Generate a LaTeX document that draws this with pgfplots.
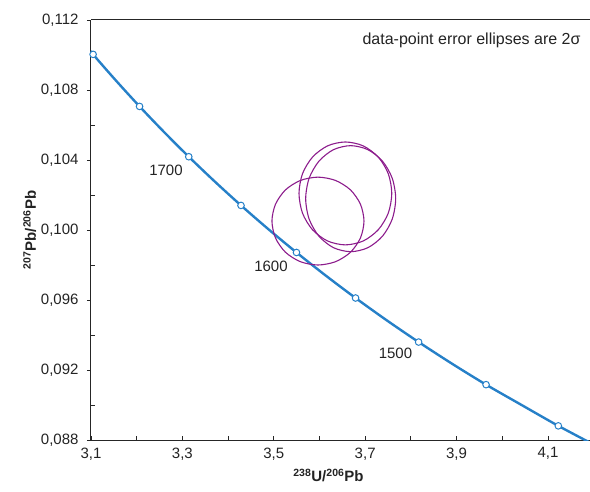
\documentclass[border=0pt]{standalone}
\usepackage{fontspec}
\setmainfont{Liberation Sans}
\usepackage{pgfplots}
\pgfplotsset{compat=1.18}
\definecolor{cblue}{RGB}{38,128,200}
\definecolor{epurple}{RGB}{140,28,140}
\definecolor{txt}{RGB}{35,35,35}
\begin{document}
\begin{tikzpicture}
\begin{axis}[
  scale only axis, width=499pt, height=420pt,
  xmin=3.1, xmax=4.192, ymin=0.088, ymax=0.112,
  axis x line*=bottom, axis y line*=left,
  axis line style={line width=1pt, black!85, -},
  xtick={3.1,3.3,3.5,3.7,3.9,4.1},
  minor xtick={3.2,3.4,3.6,3.8,4.0},
  ytick={0.088,0.092,0.096,0.100,0.104,0.108,0.112},
  minor ytick={0.090,0.094,0.098,0.102,0.106,0.110},
  xtick align=inside, ytick align=outside,
  major tick length=4pt, minor tick length=4pt,
  minor y tick style={xshift=4pt},
  tick style={line width=0.9pt, black!85},
  /pgf/number format/assume math mode=true,
  xticklabel style={yshift=-4pt, /pgf/number format/.cd, use comma, fixed, precision=1, fixed zerofill},
  yticklabel style={xshift=-5pt, /pgf/number format/.cd, use comma, fixed, precision=3, fixed zerofill},
  tick label style={font=\fontsize{15}{18}\selectfont, text=txt},
  xlabel={\textbf{\textsuperscript{238}U/\textsuperscript{206}Pb}},
  ylabel={\textbf{\textsuperscript{207}Pb/\textsuperscript{206}Pb}},
  label style={font=\fontsize{15}{18}\selectfont, text=txt},
  xlabel style={xshift=-12pt, yshift=-2pt},
  ylabel style={yshift=-2pt},
  clip=true,
]
% concordia curve (1375-1825 Ma, every 25 Ma)
\addplot[cblue, line width=2.4pt, smooth] coordinates {
(4.20605,0.087658) (4.12265,0.088808) (4.04220,0.090002) (3.96453,0.091163)
(3.88950,0.092369) (3.81698,0.093597) (3.74685,0.094845) (3.67899,0.096114)
(3.61331,0.097404) (3.54967,0.098716) (3.48801,0.100050) (3.42824,0.101405)
(3.37024,0.102785) (3.31396,0.104187) (3.25932,0.105613) (3.20626,0.107062)
(3.15470,0.108537) (3.10458,0.110036) (3.05584,0.111586)
};
% age marks every 50 Ma
\addplot[only marks, mark=*, mark size=3.3pt, mark options={fill=white, draw=cblue, line width=1pt}] coordinates {
(4.12265,0.088808) (3.96453,0.091163) (3.81698,0.093597) (3.67899,0.096114)
(3.54967,0.098716) (3.42824,0.101405) (3.31396,0.104187) (3.20626,0.107062)
(3.10458,0.110036)
};
% error ellipses
\addplot[epurple, line width=1.1pt, smooth cycle] coordinates {
(3.6974,0.10051) (3.6897,0.10147) (3.6679,0.10229) (3.6352,0.10283)
(3.5967,0.10302) (3.5582,0.10283) (3.5255,0.10229) (3.5037,0.10147)
(3.4960,0.10051) (3.5037,0.09955) (3.5255,0.09873) (3.5582,0.09819)
(3.5967,0.09800) (3.6352,0.09819) (3.6679,0.09873) (3.6897,0.09955)
};
\addplot[epurple, line width=1.1pt, smooth cycle] coordinates {
(3.7582,0.10209) (3.7505,0.10322) (3.7285,0.10417) (3.6955,0.10481)
(3.6567,0.10503) (3.6179,0.10481) (3.5849,0.10417) (3.5629,0.10322)
(3.5552,0.10209) (3.5629,0.10096) (3.5849,0.10001) (3.6179,0.09937)
(3.6567,0.09915) (3.6955,0.09937) (3.7285,0.10001) (3.7505,0.10096)
};
\addplot[epurple, line width=1.1pt, smooth cycle] coordinates {
(3.7668,0.10179) (3.7593,0.10295) (3.7380,0.10393) (3.7060,0.10459)
(3.6683,0.10482) (3.6306,0.10459) (3.5987,0.10393) (3.5773,0.10295)
(3.5698,0.10179) (3.5773,0.10063) (3.5987,0.09965) (3.6306,0.09899)
(3.6683,0.09876) (3.7060,0.09899) (3.7380,0.09965) (3.7593,0.10063)
};
\draw[line width=1pt, black!85] (rel axis cs:0,1) -- (rel axis cs:1,1);
\node[font=\fontsize{15}{18}\selectfont, text=txt] at (axis cs:3.2641,0.10343) {1700};
\node[font=\fontsize{15}{18}\selectfont, text=txt] at (axis cs:3.4939,0.09794) {1600};
\node[font=\fontsize{15}{18}\selectfont, text=txt] at (axis cs:3.7663,0.09297) {1500};
\node[anchor=east, font=\fontsize{16}{19}\selectfont, text=txt] at (axis cs:4.1790,0.11086) {data-point error ellipses are 2σ};
\end{axis}
\pgfresetboundingbox
\path[use as bounding box] (current axis.south west) ++(-91pt,-51pt) rectangle ++(590pt,491pt);
\end{tikzpicture}
\end{document}
